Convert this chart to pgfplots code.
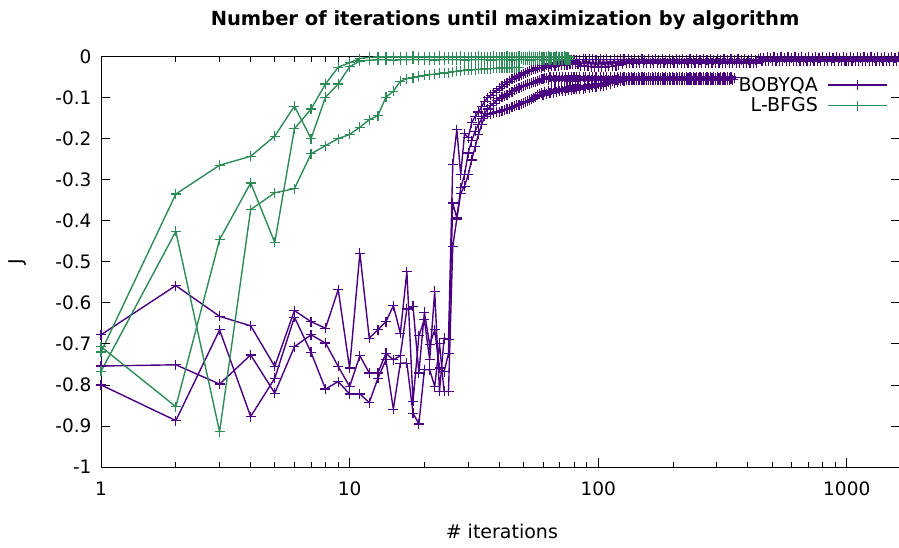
\documentclass[border=0pt]{standalone}
\usepackage{fontspec}
\setmainfont{DejaVu Sans}
\usepackage{pgfplots}
\usepackage{pgfplotstable}
\pgfplotsset{compat=1.18}
\definecolor{bobyqa}{HTML}{4B0082}
\definecolor{lbfgs}{HTML}{2E8B57}
\newcommand{\lblfont}{\fontsize{19}{22}\selectfont}
\newcommand{\tickfont}{\fontsize{18.5}{21}\selectfont}
\pgfplotsset{
  run/.style={draw=#1, color=#1, line width=1.4pt, line join=round, mark=+, mark size=5pt,
    mark options={solid, draw=#1, line width=1.2pt}},
}

% BOBYQA: objective value J per iteration, three runs (nan = run already finished)
\pgfplotstableread{
n pa pb pc
1 -0.678 -0.754 -0.800
2 -0.558 -0.751 -0.887
3 -0.633 -0.798 -0.666
4 -0.656 -0.727 -0.877
5 -0.755 -0.820 -0.784
6 -0.619 -0.707 -0.635
7 -0.646 -0.678 -0.721
8 -0.662 -0.698 -0.810
9 -0.568 -0.755 -0.792
10 -0.759 -0.804 -0.822
11 -0.479 -0.729 -0.822
12 -0.686 -0.771 -0.843
13 -0.666 -0.771 -0.784
14 -0.646 -0.723 -0.739
15 -0.607 -0.739 -0.859
16 -0.674 -0.729 -0.747
17 -0.524 -0.615 -0.747
18 -0.840 -0.609 -0.869
19 -0.680 -0.771 -0.895
20 -0.641 -0.623 -0.763
21 -0.739 -0.702 -0.763
22 -0.572 -0.666 -0.804
23 -0.816 -0.759 -0.700
24 -0.686 -0.768 -0.816
25 -0.690 -0.723 -0.816
26 -0.263 -0.357 -0.463
27 -0.178 -0.393 -0.396
28 -0.288 -0.320 -0.333
29 -0.188 -0.288 -0.316
30 -0.198 -0.235 -0.288
31 -0.161 -0.205 -0.252
32 -0.146 -0.182 -0.220
33 -0.135 -0.165 -0.190
34 -0.122 -0.152 -0.165
35 -0.109 -0.138 -0.146
36 -0.100 -0.128 -0.141
37 -0.095 -0.120 -0.139
38 -0.088 -0.114 -0.137
39 -0.083 -0.108 -0.135
40 -0.077 -0.103 -0.134
41 -0.073 -0.099 -0.132
42 -0.068 -0.096 -0.130
43 -0.064 -0.093 -0.129
44 -0.060 -0.090 -0.127
45 -0.056 -0.086 -0.124
46 -0.053 -0.082 -0.121
47 -0.050 -0.079 -0.119
48 -0.047 -0.076 -0.117
49 -0.045 -0.074 -0.115
50 -0.042 -0.072 -0.113
51 -0.040 -0.070 -0.111
52 -0.037 -0.068 -0.109
53 -0.035 -0.066 -0.107
54 -0.033 -0.065 -0.104
55 -0.031 -0.063 -0.101
56 -0.030 -0.062 -0.098
57 -0.028 -0.060 -0.095
58 -0.026 -0.058 -0.092
59 -0.029 -0.056 -0.088
60 -0.022 -0.055 -0.094
61 -0.026 -0.053 -0.086
62 -0.020 -0.052 -0.092
63 -0.025 -0.057 -0.084
64 -0.018 -0.050 -0.090
65 -0.024 -0.057 -0.082
66 -0.016 -0.050 -0.088
67 -0.023 -0.058 -0.080
68 -0.015 -0.050 -0.086
69 -0.022 -0.057 -0.079
70 -0.013 -0.050 -0.085
71 -0.021 -0.058 -0.078
72 -0.012 -0.050 -0.084
73 -0.020 -0.057 -0.077
74 -0.011 -0.050 -0.083
75 -0.020 -0.058 -0.076
76 -0.010 -0.050 -0.082
77 -0.019 -0.057 -0.075
78 -0.009 -0.050 -0.081
79 -0.019 -0.058 -0.074
80 -0.009 -0.050 -0.080
81 -0.018 -0.057 -0.074
82 -0.008 -0.050 -0.079
83 -0.018 -0.058 -0.073
84 -0.008 -0.050 -0.079
85 -0.024 -0.057 -0.072
87 -0.007 -0.050 -0.078
88 -0.023 -0.058 -0.071
89 -0.007 -0.050 -0.077
91 -0.024 -0.057 -0.070
92 -0.007 -0.050 -0.076
94 -0.025 -0.058 -0.069
95 -0.007 -0.050 -0.075
97 -0.026 -0.057 -0.068
98 -0.008 -0.050 -0.074
100 -0.026 -0.058 -0.067
102 -0.007 -0.050 -0.073
103 -0.025 -0.057 -0.066
105 -0.008 -0.050 -0.071
107 -0.026 -0.058 -0.063
108 -0.007 -0.050 -0.069
110 -0.024 -0.057 -0.061
112 -0.008 -0.050 -0.066
114 -0.024 -0.058 -0.059
116 -0.007 -0.050 -0.064
118 -0.022 -0.057 -0.057
120 -0.008 -0.050 -0.062
121 -0.021 -0.058 -0.055
123 -0.007 -0.050 -0.060
125 -0.019 -0.057 -0.053
127 -0.007 -0.050 -0.059
130 -0.017 -0.058 -0.052
132 -0.007 -0.050 -0.058
134 -0.016 -0.057 -0.052
136 -0.008 -0.050 -0.058
138 -0.016 -0.057 -0.052
140 -0.007 -0.050 -0.058
143 -0.016 -0.058 -0.052
145 -0.008 -0.050 -0.058
147 -0.016 -0.057 -0.052
150 -0.007 -0.050 -0.058
152 -0.016 -0.058 -0.052
154 -0.008 -0.050 -0.058
157 -0.016 -0.057 -0.052
159 -0.007 -0.050 -0.058
162 -0.016 -0.058 -0.052
165 -0.008 -0.050 -0.058
167 -0.016 -0.057 -0.052
170 -0.007 -0.050 -0.058
173 -0.016 -0.058 -0.052
175 -0.008 -0.050 -0.058
178 -0.016 -0.057 -0.052
181 -0.007 -0.050 -0.058
184 -0.016 -0.058 -0.052
187 -0.008 -0.050 -0.058
190 -0.016 -0.057 -0.052
193 -0.007 -0.050 -0.058
196 -0.016 -0.058 -0.052
199 -0.008 -0.050 -0.058
202 -0.016 -0.057 -0.052
206 -0.007 -0.050 -0.058
209 -0.016 -0.058 -0.052
212 -0.008 -0.050 -0.058
216 -0.016 -0.057 -0.052
219 -0.007 -0.050 -0.058
223 -0.016 -0.058 -0.052
226 -0.008 -0.050 -0.058
230 -0.016 -0.057 -0.052
234 -0.007 -0.050 -0.058
237 -0.016 -0.058 -0.052
241 -0.008 -0.050 -0.058
245 -0.016 -0.057 -0.052
249 -0.007 -0.050 -0.058
253 -0.016 -0.058 -0.052
257 -0.008 -0.050 -0.058
261 -0.016 -0.057 -0.052
265 -0.007 -0.050 -0.058
270 -0.016 -0.058 -0.052
274 -0.008 -0.050 -0.058
278 -0.016 -0.057 -0.052
283 -0.007 -0.050 -0.058
287 -0.016 -0.058 -0.052
292 -0.008 -0.050 -0.058
297 -0.016 -0.057 -0.052
301 -0.007 -0.050 -0.058
306 -0.016 -0.058 -0.052
311 -0.008 -0.050 -0.058
316 -0.016 -0.057 -0.052
321 -0.007 -0.050 -0.058
326 -0.016 -0.058 -0.052
332 -0.008 -0.050 -0.058
337 -0.016 -0.057 -0.052
342 -0.007 -0.050 -0.055
348 -0.016 -0.057 nan
354 -0.008 -0.052 nan
359 -0.016 nan nan
365 -0.007 nan nan
371 -0.016 nan nan
377 -0.008 nan nan
383 -0.016 nan nan
389 -0.007 nan nan
395 -0.016 nan nan
402 -0.008 nan nan
408 -0.016 nan nan
415 -0.007 nan nan
421 -0.016 nan nan
428 -0.008 nan nan
435 -0.016 nan nan
442 -0.007 nan nan
449 -0.003 nan nan
456 -0.011 nan nan
464 -0.003 nan nan
471 -0.011 nan nan
479 -0.002 nan nan
486 -0.011 nan nan
494 -0.003 nan nan
502 -0.011 nan nan
510 -0.002 nan nan
519 -0.011 nan nan
527 -0.003 nan nan
536 -0.011 nan nan
544 -0.002 nan nan
553 -0.011 nan nan
562 -0.003 nan nan
571 -0.011 nan nan
580 -0.002 nan nan
590 -0.011 nan nan
599 -0.003 nan nan
609 -0.011 nan nan
619 -0.002 nan nan
629 -0.011 nan nan
639 -0.003 nan nan
649 -0.011 nan nan
660 -0.002 nan nan
670 -0.011 nan nan
681 -0.003 nan nan
692 -0.011 nan nan
703 -0.002 nan nan
715 -0.011 nan nan
726 -0.003 nan nan
738 -0.011 nan nan
750 -0.002 nan nan
762 -0.011 nan nan
774 -0.003 nan nan
787 -0.011 nan nan
800 -0.002 nan nan
812 -0.011 nan nan
826 -0.003 nan nan
839 -0.011 nan nan
852 -0.002 nan nan
866 -0.011 nan nan
880 -0.003 nan nan
894 -0.011 nan nan
909 -0.002 nan nan
923 -0.011 nan nan
938 -0.003 nan nan
953 -0.011 nan nan
969 -0.002 nan nan
984 -0.011 nan nan
1000 -0.003 nan nan
1016 -0.011 nan nan
1033 -0.002 nan nan
1049 -0.011 nan nan
1066 -0.003 nan nan
1083 -0.011 nan nan
1101 -0.002 nan nan
1118 -0.011 nan nan
1136 -0.003 nan nan
1155 -0.011 nan nan
1173 -0.002 nan nan
1192 -0.011 nan nan
1211 -0.003 nan nan
1231 -0.011 nan nan
1251 -0.002 nan nan
1271 -0.011 nan nan
1291 -0.003 nan nan
1312 -0.011 nan nan
1333 -0.002 nan nan
1355 -0.011 nan nan
1376 -0.003 nan nan
1399 -0.011 nan nan
1421 -0.002 nan nan
1444 -0.011 nan nan
1467 -0.003 nan nan
1491 -0.011 nan nan
1515 -0.002 nan nan
1539 -0.011 nan nan
1564 -0.003 nan nan
1589 -0.011 nan nan
1615 -0.002 nan nan
1630 -0.008 nan nan
}\bobyqadata

% L-BFGS: objective value J per iteration, three runs
\pgfplotstableread{
n ga gb gc
1 -0.720 -0.767 -0.707
2 -0.335 -0.426 -0.853
3 -0.265 -0.914 -0.446
4 -0.243 -0.373 -0.308
5 -0.194 -0.332 -0.453
6 -0.121 -0.322 -0.176
7 -0.200 -0.237 -0.128
8 -0.099 -0.217 -0.067
9 -0.067 -0.200 -0.026
10 -0.025 -0.190 -0.015
11 -0.011 -0.172 -0.005
12 -0.009 -0.154 -0.002
13 -0.008 -0.144 -0.001
14 -0.008 -0.099 -0.001
15 -0.009 -0.085 -0.001
16 -0.008 -0.060 -0.001
17 -0.008 -0.054 -0.001
18 -0.007 -0.052 0
19 -0.008 -0.048 -0.001
20 -0.008 -0.046 -0.001
21 -0.008 -0.044 -0.001
22 -0.009 -0.043 -0.001
23 -0.008 -0.041 0
24 -0.008 -0.040 -0.001
25 -0.007 -0.039 -0.001
26 -0.008 -0.037 -0.001
27 -0.008 -0.036 -0.001
28 -0.008 -0.035 0
29 -0.009 -0.034 -0.001
30 -0.008 -0.033 -0.001
31 -0.008 -0.032 -0.001
32 -0.008 -0.032 -0.001
33 -0.007 -0.031 0
34 -0.008 -0.031 -0.001
35 -0.008 -0.030 -0.001
36 -0.008 -0.030 -0.001
37 -0.009 -0.030 -0.001
38 -0.008 -0.029 0
39 -0.008 -0.029 -0.001
40 -0.008 -0.029 -0.001
41 -0.007 -0.028 -0.001
42 -0.008 -0.028 -0.001
43 -0.008 -0.028 0
44 -0.008 -0.027 -0.001
45 -0.009 -0.027 -0.001
46 -0.008 -0.027 -0.001
47 -0.008 -0.027 -0.001
48 -0.008 -0.026 0
49 -0.007 nan -0.001
50 -0.008 nan -0.001
51 -0.008 nan -0.001
52 -0.008 nan -0.001
53 -0.009 nan 0
54 -0.008 nan -0.001
55 -0.008 nan -0.001
56 -0.008 nan -0.001
57 -0.007 nan -0.001
58 -0.008 nan 0
59 -0.008 nan -0.001
60 -0.008 nan -0.001
61 -0.009 nan -0.001
62 -0.008 nan -0.001
63 -0.008 nan 0
64 -0.008 nan -0.001
65 -0.007 nan -0.001
66 -0.008 nan -0.001
67 -0.008 nan -0.001
68 -0.008 nan 0
69 -0.009 nan -0.001
70 -0.008 nan -0.001
71 -0.008 nan -0.001
72 -0.008 nan -0.001
73 -0.007 nan 0
74 -0.008 nan -0.001
75 -0.008 nan -0.001
76 -0.008 nan -0.001
77 -0.008 nan nan
}\lbfgsdata

\begin{document}
\begin{tikzpicture}[x=1pt,y=1pt]
\begin{axis}[
  at={(101pt,80pt)}, anchor=south west,
  scale only axis, width=798.5pt, height=410.5pt,
  xmode=log, xmin=1, xmax=1630, ymin=-1, ymax=0,
  xtick={1,10,100,1000}, xticklabels={1,10,100,1000},
  minor xtick={2,3,4,5,6,7,8,9,20,30,40,50,60,70,80,90,200,300,400,500,600,700,800,900},
  ytick={-1,-0.9,-0.8,-0.7,-0.6,-0.5,-0.4,-0.3,-0.2,-0.1,0},
  yticklabels={-1,-0.9,-0.8,-0.7,-0.6,-0.5,-0.4,-0.3,-0.2,-0.1,0},
  major tick length=9pt, minor tick length=5pt,
  tick style={black, line width=0.8pt},
  axis line style={black, line width=0.9pt},
  axis on top,
  unbounded coords=discard,
  every tick label/.append style={font=\tickfont},
  xticklabel style={yshift=-11pt},
  yticklabel style={xshift=-6pt},
  title={Number of iterations until maximization by algorithm},
  title style={at={(axis description cs:0.506,1.060)}, anchor=base, font=\fontsize{19.5}{22}\selectfont\bfseries},
  xlabel={\# iterations},
  xlabel style={at={(axis description cs:0.502,-0.175)}, anchor=base, font=\lblfont},
  ylabel={J},
  ylabel style={at={(axis description cs:-0.105,0.5)}, anchor=center, font=\lblfont},
  legend style={at={(axis description cs:0.985,0.955)}, anchor=north east, draw=none, fill=none,
    font=\lblfont, inner sep=0pt, row sep=1pt, column sep=7pt},
  legend cell align=right,
  legend plot pos=right,
  legend image code/.code={\draw[mark repeat=2,mark phase=2,#1] plot coordinates {(0pt,0pt) (29.5pt,0pt) (59pt,0pt)};},
]
\addlegendimage{run=bobyqa}
\addlegendentry{BOBYQA}
\addlegendimage{run=lbfgs}
\addlegendentry{L-BFGS}
% BOBYQA runs
\addplot[run=bobyqa, forget plot] table[x=n, y=pa] {\bobyqadata};
\addplot[run=bobyqa, forget plot] table[x=n, y=pb] {\bobyqadata};
\addplot[run=bobyqa, forget plot] table[x=n, y=pc] {\bobyqadata};
% L-BFGS runs
\addplot[run=lbfgs, forget plot] table[x=n, y=ga] {\lbfgsdata};
\addplot[run=lbfgs, forget plot] table[x=n, y=gb] {\lbfgsdata};
\addplot[run=lbfgs, forget plot] table[x=n, y=gc] {\lbfgsdata};
\end{axis}
\pgfresetboundingbox
\path[use as bounding box] (0,0) rectangle (899,547);
\end{tikzpicture}
\end{document}
